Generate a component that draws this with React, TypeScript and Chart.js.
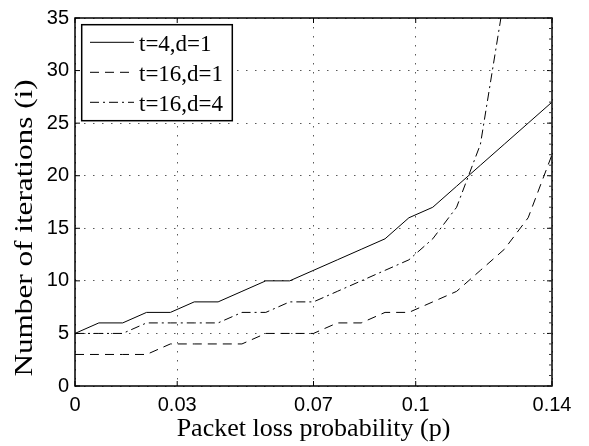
import React, { useEffect, useRef } from 'react';
import { Chart, registerables } from 'chart.js';

Chart.register(...registerables);

// Packet loss probability values (x)
const pValues = [0, 0.007, 0.014, 0.021, 0.028, 0.035, 0.042, 0.049, 0.056, 0.063, 0.07, 0.077, 0.084, 0.091, 0.098, 0.105, 0.112, 0.119, 0.126, 0.133, 0.14];
// Number of iterations for each configuration
const t4d1 = [5, 6, 6, 7, 7, 8, 8, 9, 10, 10, 11, 12, 13, 14, 16, 17, 19, 21, 23, 25, 27];
const t16d1 = [3, 3, 3, 3, 4, 4, 4, 4, 5, 5, 5, 6, 6, 7, 7, 8, 9, 11, 13, 16, 22];
const t16d4 = [5, 5, 5, 6, 6, 6, 6, 7, 7, 8, 8, 9, 10, 11, 12, 14, 17, 23, 37, null, null];

const seriesLabels = ['t=4,d=1', 't=16,d=1', 't=16,d=4'];
const xTickValues = [0, 0.03, 0.07, 0.1, 0.14];
const xTickLabels = ['0', '0.03', '0.07', '0.1', '0.14'];
const yTickValues = [0, 5, 10, 15, 20, 25, 30, 35];
const xTitle = 'Packet loss probability (p)';
const yTitle = 'Number of iterations (i)';

const SANS = '"Liberation Sans", Arial, Helvetica, sans-serif';
const SERIF = '"Liberation Serif", "Times New Roman", serif';

const framePlugin = {
  id: 'matlabFrame',
  afterDraw(chart: any) {
    const { ctx, chartArea: a, scales } = chart;
    const xs = scales.x;
    const ys = scales.y;
    ctx.save();
    ctx.setLineDash([]);
    ctx.strokeStyle = '#000';
    ctx.lineWidth = 1.5;
    ctx.strokeRect(a.left, a.top, a.right - a.left, a.bottom - a.top);

    // inward major ticks
    ctx.lineWidth = 1;
    ctx.beginPath();
    for (const v of xTickValues) {
      const px = xs.getPixelForValue(v);
      ctx.moveTo(px, a.bottom);
      ctx.lineTo(px, a.bottom - 5);
      ctx.moveTo(px, a.top);
      ctx.lineTo(px, a.top + 5);
    }
    for (const v of yTickValues) {
      const py = ys.getPixelForValue(v);
      ctx.moveTo(a.left, py);
      ctx.lineTo(a.left + 5, py);
      ctx.moveTo(a.right, py);
      ctx.lineTo(a.right - 5, py);
    }
    ctx.stroke();

    // minor ticks on right side
    ctx.strokeStyle = '#333';
    ctx.beginPath();
    for (let v = ys.min; v <= ys.max; v += 1) {
      const py = ys.getPixelForValue(v);
      ctx.moveTo(a.right, py);
      ctx.lineTo(a.right - 3, py);
    }
    ctx.stroke();

    // axis titles
    ctx.fillStyle = '#000';
    ctx.font = '26px ' + SERIF;
    ctx.textAlign = 'center';
    ctx.textBaseline = 'alphabetic';
    ctx.fillText(xTitle, (a.left + a.right) / 2, a.bottom + 49.7);

    ctx.save();
    ctx.translate(32, (a.top + a.bottom) / 2 + 26);
    ctx.rotate(-Math.PI / 2);
    ctx.scale(1.2, 1);
    ctx.fillText(yTitle, 0, 0);
    ctx.restore();

    // legend
    const lx = a.left + 6.7;
    const ly = a.top + 6.7;
    const lw = 150.6;
    const lh = 96;
    ctx.fillStyle = '#fff';
    ctx.fillRect(lx, ly, lw, lh);
    ctx.strokeStyle = '#000';
    ctx.lineWidth = 1.5;
    ctx.strokeRect(lx, ly, lw, lh);
    ctx.font = '23px ' + SERIF;
    ctx.textAlign = 'left';
    chart.data.datasets.forEach((ds: any, i: number) => {
      const y = ly + 17.6 + i * 30;
      ctx.beginPath();
      ctx.strokeStyle = ds.borderColor;
      ctx.lineWidth = ds.borderWidth;
      ctx.setLineDash(ds.borderDash || []);
      ctx.moveTo(lx + 8.3, y);
      ctx.lineTo(lx + 52.3, y);
      ctx.stroke();
      ctx.setLineDash([]);
      ctx.fillStyle = '#000';
      ctx.fillText(ds.label, lx + 57.3, y + 9);
    });
    ctx.restore();
  },
};

export default function App() {
  const canvasRef = useRef<HTMLCanvasElement | null>(null);

  useEffect(() => {
    const canvas = canvasRef.current;
    if (!canvas) return;
    const toPoints = (vals: (number | null)[]) => pValues.map((p, i) => ({ x: p, y: vals[i] }));
    const chart = new Chart(canvas, {
      type: 'line',
      data: {
        datasets: [
          {
            label: seriesLabels[0],
            data: toPoints(t4d1) as any,
            borderColor: '#000',
            borderWidth: 1,
            borderDash: [],
            pointRadius: 0,
            tension: 0,
            fill: false,
          },
          {
            label: seriesLabels[1],
            data: toPoints(t16d1) as any,
            borderColor: '#000',
            borderWidth: 1,
            borderDash: [9, 6],
            pointRadius: 0,
            tension: 0,
            fill: false,
          },
          {
            label: seriesLabels[2],
            data: toPoints(t16d4) as any,
            borderColor: '#000',
            borderWidth: 1,
            borderDash: [9, 4, 2, 4],
            pointRadius: 0,
            tension: 0,
            fill: false,
          },
        ],
      },
      options: {
        responsive: false,
        animation: false,
        devicePixelRatio: 1,
        layout: { padding: { left: 0, top: 15, right: 37, bottom: 0 } },
        plugins: {
          legend: { display: false },
          tooltip: { enabled: false },
        },
        scales: {
          x: {
            type: 'linear',
            min: 0,
            max: 0.14,
            afterBuildTicks: (scale: any) => {
              scale.ticks = xTickValues.map((v) => ({ value: v }));
            },
            afterFit: (scale: any) => {
              scale.height = 60;
            },
            ticks: {
              autoSkip: false,
              maxRotation: 0,
              padding: 7,
              color: '#000',
              font: { family: SANS, size: 20 },
              callback: (_v: any, i: number) => xTickLabels[i],
            },
            grid: {
              color: 'rgba(60,60,60,0.85)',
              lineWidth: 1,
              drawTicks: false,
            },
            border: { display: false, dash: [1.5, 7.5] },
          },
          y: {
            type: 'linear',
            min: 0,
            max: 35,
            afterBuildTicks: (scale: any) => {
              scale.ticks = yTickValues.map((v) => ({ value: v }));
            },
            afterFit: (scale: any) => {
              scale.width = 75;
            },
            ticks: {
              autoSkip: false,
              padding: 6,
              color: '#000',
              font: { family: SANS, size: 20 },
              callback: (v: any) => String(v),
            },
            grid: {
              color: 'rgba(60,60,60,0.85)',
              lineWidth: 1,
              drawTicks: false,
            },
            border: { display: false, dash: [1.5, 7.5] },
          },
        },
      },
      plugins: [framePlugin],
    });
    return () => chart.destroy();
  }, []);

  return (
    <div style={{ position: 'absolute', left: 0, top: 0, width: 589, height: 446, background: '#fff' }}>
      <canvas ref={canvasRef} width={589} height={446} style={{ display: 'block' }} />
    </div>
  );
}
